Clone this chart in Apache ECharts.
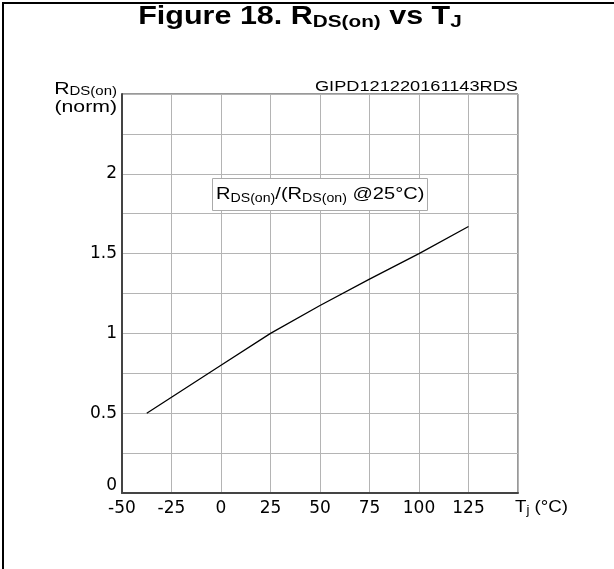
<!DOCTYPE html>
<html>
<head>
<meta charset="utf-8">
<script src="https://cdn.jsdelivr.net/npm/echarts@6/dist/echarts.min.js"></script>
<style>
html,body{margin:0;padding:0;background:#fff;}
#chart{width:614px;height:569px;}
</style>
</head>
<body>
<div id="chart"></div>
<script>
// Data
var temperatures = [-37.5, -25, 0, 25, 50, 75, 100, 125];
var rdsNorm = [0.50, 0.60, 0.80, 1.00, 1.175, 1.34, 1.50, 1.67];
var xTickLabels = ['-50', '-25', '0', '25', '50', '75', '100', '125'];
var yTickLabels = ['0', '0.5', '1', '1.5', '2'];

var FONT = 'Liberation Sans, Arial, sans-serif';
var TICKFONT = 'DejaVu Sans, sans-serif';
var chart = echarts.init(document.getElementById('chart'), null, {renderer: 'canvas'});

var option = {
  backgroundColor: '#fff',
  animation: false,
  grid: {left: 122, top: 94, right: 96, bottom: 76,
         show: true, borderColor: '#333', borderWidth: 1},
  xAxis: {
    type: 'value', min: -50, max: 150, interval: 25,
    axisLine: {show: true, onZero: false, lineStyle: {color: '#444', width: 2}},
    axisTick: {show: false},
    splitLine: {show: true, lineStyle: {color: '#b4b4b4', width: 1}},
    axisLabel: {
      color: '#000', fontFamily: TICKFONT, fontSize: 17, margin: 7,
      formatter: function (v) {
        var i = xTickLabels.indexOf(String(v));
        return i >= 0 ? xTickLabels[i] : '';
      }
    }
  },
  yAxis: {
    type: 'value', min: 0, max: 2.5, interval: 0.25,
    axisLine: {show: true, onZero: false, lineStyle: {color: '#444', width: 2}},
    axisTick: {show: false},
    splitLine: {show: true, lineStyle: {color: '#b4b4b4', width: 1}},
    axisLabel: {
      color: '#000', fontFamily: TICKFONT, fontSize: 17, margin: 5,
      formatter: function (v) {
        var s = String(Math.round(v * 100) / 100);
        if (yTickLabels.indexOf(s) < 0) return '';
        return s === '0' ? '{z|0}' : s;
      },
      rich: {z: {fontFamily: TICKFONT, fontSize: 17, padding: [0, 0, 15, 0]}}
    }
  },
  series: [{
    type: 'line',
    data: temperatures.map(function (t, i) { return [t, rdsNorm[i]]; }),
    showSymbol: false,
    lineStyle: {color: '#000', width: 1.3},
    z: 5
  }],
  graphic: [
    // page frame (top and left)
    {type: 'rect', shape: {x: 2, y: 2, width: 612, height: 2}, style: {fill: '#000'}},
    {type: 'rect', shape: {x: 2, y: 2, width: 2, height: 567}, style: {fill: '#000'}},
    // title
    {type: 'text', x: 300, y: 3, scaleX: 1.22,
     style: {
       text: '{m|Figure 18. R}{s|DS(on)}{m| vs T}{s|J}',
       fill: '#000', align: 'center', verticalAlign: 'top',
       rich: {
         m: {fontFamily: FONT, fontWeight: 'bold', fontSize: 25, lineHeight: 28, verticalAlign: 'middle', align: 'center'},
         s: {fontFamily: FONT, fontWeight: 'bold', fontSize: 17, lineHeight: 10, verticalAlign: 'bottom', align: 'center'}
       }
     }},
    // y axis name
    {type: 'text', x: 117, y: 80, scaleX: 1.25,
     style: {
       text: '{m|R}{s|DS(on)}\n{m|(norm)}',
       fill: '#000', align: 'right', verticalAlign: 'top',
       rich: {
         m: {fontFamily: FONT, fontSize: 17, lineHeight: 18, verticalAlign: 'middle', align: 'right'},
         s: {fontFamily: FONT, fontSize: 12, lineHeight: 8, verticalAlign: 'bottom', align: 'right'}
       }
     }},
    // code
    {type: 'text', x: 518, y: 94, scaleX: 1.3,
     style: {text: 'GIPD121220161143RDS', fill: '#000', font: '14px ' + FONT,
             align: 'right', verticalAlign: 'bottom'}},
    // annotation box
    {type: 'rect', z: 10, shape: {x: 212.5, y: 178.5, width: 215, height: 32},
     style: {fill: '#fff', stroke: '#aaa', lineWidth: 1}},
    {type: 'text', x: 216, y: 194, z: 11, scaleX: 1.18,
     style: {
       text: '{m|R}{s|DS(on)}{m|/(R}{s|DS(on)}{m| @25°C)}',
       fill: '#000', align: 'left', verticalAlign: 'middle',
       rich: {
         m: {fontFamily: FONT, fontSize: 17, lineHeight: 22, verticalAlign: 'middle'},
         s: {fontFamily: FONT, fontSize: 12, lineHeight: 8, verticalAlign: 'bottom'}
       }
     }},
    // x axis unit
    {type: 'text', x: 515, y: 497, scaleX: 1.1,
     style: {
       text: '{m|T}{s|j}{m| (°C)}',
       fill: '#000', align: 'left', verticalAlign: 'top',
       rich: {
         m: {fontFamily: FONT, fontSize: 17, lineHeight: 20, verticalAlign: 'middle'},
         s: {fontFamily: FONT, fontSize: 12, lineHeight: 8, verticalAlign: 'bottom'}
       }
     }}
  ]
};
chart.setOption(option);
</script>
</body>
</html>
